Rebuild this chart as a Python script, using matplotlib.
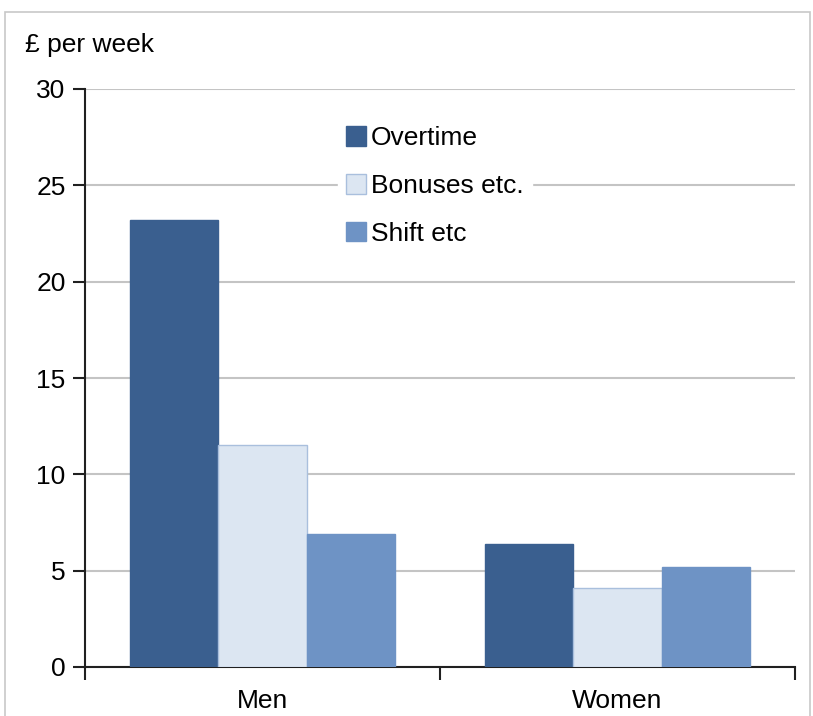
import matplotlib.pyplot as plt
import numpy as np
from matplotlib.patches import Rectangle

plt.rcParams['font.family'] = ['Liberation Sans', 'DejaVu Sans']

categories = ["Men", "Women"]
series = ["Overtime", "Bonuses etc.", "Shift etc"]
overtime = [23.2, 6.4]
bonuses = [11.5, 4.1]
shift = [6.9, 5.2]
yticks = [0, 5, 10, 15, 20, 25, 30]

colors = ["#3A5F8F", "#DCE6F2", "#6E93C5"]
edges = ["#3A5F8F", "#A9BFDD", "#6E93C5"]

fig = plt.figure(figsize=(8.13, 7.16), dpi=100)
# light frame round the whole chart, open at the bottom like the source
fig.patches.append(Rectangle((5 / 813, -0.1), 805 / 813, 1.1 - 12 / 716, transform=fig.transFigure,
                             fill=False, edgecolor="#c8c8c8", linewidth=1.2))

ax = fig.add_axes([85 / 813, 49 / 716, 710 / 813, 578 / 716])

x = np.arange(len(categories))
w = 0.248
for i, vals in enumerate([overtime, bonuses, shift]):
    ax.bar(x + (i - 1) * w, vals, width=w, color=colors[i], edgecolor=edges[i],
           linewidth=1, label=series[i], zorder=3)

ax.set_xlim(-0.5, 1.5)
ax.set_ylim(0, 30)
ax.set_yticks(yticks)
ax.yaxis.grid(True, color="#c4c4c4", linewidth=1.5, zorder=0)
for s in ["top", "right"]:
    ax.spines[s].set_visible(False)
for s in ["left", "bottom"]:
    ax.spines[s].set_color("#202020")
    ax.spines[s].set_linewidth(1.5)

ax.set_xticks(x)
ax.set_xticklabels(categories)
ax.set_xticks([-0.5, 0.5, 1.5], minor=True)
ax.tick_params(axis="x", which="major", length=0, pad=16, labelsize=19)
ax.tick_params(axis="x", which="minor", length=9, width=1.5, color="#202020")
ax.tick_params(axis="y", length=9, width=1.5, color="#202020", pad=5, labelsize=19)

fig.text(25 / 813, 1 - 45 / 716, "£ per week", fontsize=19, va="center", ha="left")

leg = ax.legend(loc="upper left", bbox_to_anchor=(0.338, 0.972), frameon=True, fontsize=19,
                handlelength=0.75, handleheight=0.75, handletextpad=0.2, labelspacing=0.9,
                borderpad=0.3, fancybox=False)
leg.get_frame().set_edgecolor("white")
leg.get_frame().set_alpha(1)
leg.set_zorder(5)

fig.savefig("out.png", dpi=100)
